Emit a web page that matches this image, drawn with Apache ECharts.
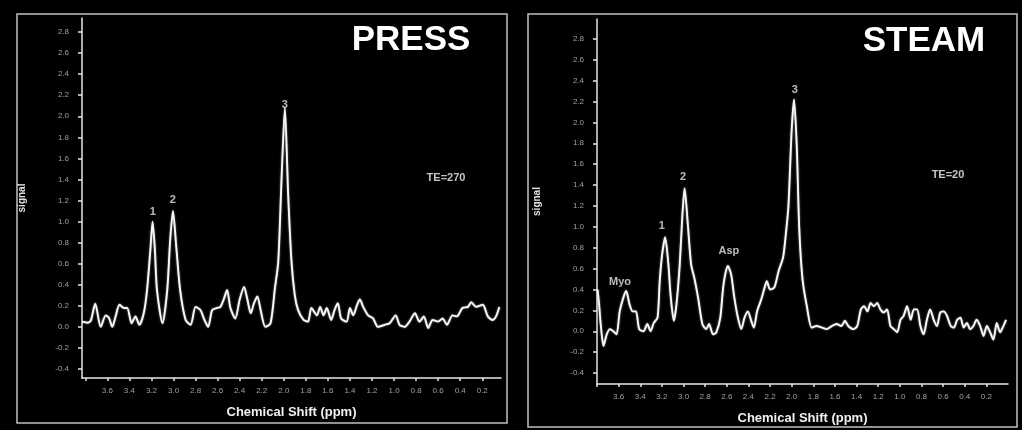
<!DOCTYPE html>
<html>
<head>
<meta charset="utf-8">
<script src="https://cdn.jsdelivr.net/npm/echarts@6/dist/echarts.min.js"></script>
<style>
  html, body { margin: 0; padding: 0; background: #000; }
  #chart { width: 1022px; height: 430px; }
</style>
</head>
<body>
<div id="chart"></div>
<script>
// ---- data ----
const pressPpm = [3.83,3.78,3.75,3.71,3.66,3.615,3.585,3.555,3.525,3.49,3.45,3.42,3.38,3.345,3.31,3.27,3.24,3.21,3.19,3.17,3.15,3.10,3.057,3.03,3.005,2.975,2.94,2.89,2.845,2.80,2.756,2.725,2.686,2.65,2.605,2.575,2.545,2.514,2.484,2.44,2.40,2.36,2.33,2.30,2.27,2.24,2.21,2.167,2.12,2.08,2.05,2.02,1.99,1.96,1.93,1.90,1.87,1.82,1.78,1.75,1.70,1.67,1.64,1.61,1.57,1.54,1.51,1.48,1.43,1.40,1.37,1.335,1.31,1.28,1.235,1.19,1.145,1.085,1.04,0.985,0.95,0.905,0.86,0.81,0.77,0.73,0.69,0.65,0.60,0.56,0.52,0.47,0.43,0.38,0.33,0.30,0.255,0.195,0.15,0.105,0.075,0.045];
const pressSignal = [0.05,0.04,0.06,0.22,0.00,0.11,0.085,0.00,0.10,0.21,0.18,0.18,0.035,0.10,0.02,0.13,0.35,0.73,1.00,0.75,0.35,0.035,0.35,0.83,1.10,0.76,0.35,0.066,0.02,0.19,0.16,0.08,0.00,0.16,0.18,0.19,0.26,0.35,0.18,0.08,0.26,0.38,0.26,0.13,0.225,0.29,0.16,0.00,0.035,0.37,0.62,1.41,2.08,1.25,0.62,0.30,0.16,0.066,0.05,0.18,0.11,0.19,0.11,0.18,0.066,0.16,0.225,0.08,0.05,0.18,0.11,0.21,0.26,0.19,0.11,0.08,0.00,0.02,0.035,0.11,0.02,0.00,0.05,0.13,0.05,0.10,-0.01,0.066,0.05,0.08,0.02,0.11,0.10,0.18,0.19,0.235,0.19,0.21,0.10,0.066,0.10,0.19];

const steamPpm = [3.795,3.78,3.766,3.74,3.71,3.68,3.65,3.62,3.59,3.557,3.53,3.50,3.47,3.44,3.41,3.37,3.335,3.305,3.275,3.24,3.22,3.197,3.17,3.14,3.12,3.09,3.065,3.035,3.01,2.99,2.96,2.93,2.90,2.865,2.826,2.79,2.764,2.727,2.697,2.66,2.63,2.59,2.56,2.53,2.497,2.466,2.436,2.405,2.374,2.35,2.32,2.28,2.25,2.23,2.20,2.16,2.12,2.08,2.055,2.03,2.00,1.978,1.953,1.93,1.90,1.86,1.815,1.77,1.72,1.676,1.63,1.585,1.54,1.508,1.477,1.43,1.394,1.36,1.33,1.30,1.27,1.24,1.21,1.18,1.148,1.118,1.087,1.056,1.025,0.994,0.964,0.933,0.90,0.87,0.84,0.81,0.78,0.75,0.72,0.687,0.657,0.626,0.595,0.565,0.53,0.50,0.47,0.44,0.41,0.38,0.35,0.32,0.29,0.257,0.226,0.196,0.165,0.135,0.104,0.073,0.043,0.018];
const steamSignal = [0.40,0.25,0.07,-0.14,-0.03,0.02,0.00,-0.03,0.19,0.32,0.385,0.26,0.19,0.19,0.02,0.00,0.07,0.00,0.08,0.13,0.48,0.74,0.90,0.64,0.35,0.10,0.26,0.64,1.12,1.37,1.02,0.64,0.51,0.32,0.07,0.02,0.07,-0.03,-0.01,0.13,0.45,0.625,0.545,0.32,0.13,0.02,0.13,0.19,0.10,0.035,0.19,0.31,0.42,0.48,0.40,0.42,0.58,0.705,0.92,1.20,1.93,2.22,1.77,0.98,0.50,0.24,0.035,0.05,0.035,0.02,0.05,0.07,0.05,0.10,0.05,0.02,0.05,0.21,0.24,0.19,0.27,0.24,0.27,0.21,0.18,0.21,0.05,0.02,-0.01,0.11,0.15,0.24,0.11,0.21,0.21,0.05,-0.03,0.11,0.21,0.11,0.05,0.18,0.19,0.15,0.05,0.035,0.11,0.13,0.035,0.08,0.02,0.05,0.11,0.05,-0.045,0.05,-0.01,-0.08,0.08,-0.01,0.05,0.11];

const yTickValues = [-0.4,-0.2,0.0,0.2,0.4,0.6,0.8,1.0,1.2,1.4,1.6,1.8,2.0,2.2,2.4,2.6,2.8];
const xTickValues = [3.8,3.6,3.4,3.2,3.0,2.8,2.6,2.4,2.2,2.0,1.8,1.6,1.4,1.2,1.0,0.8,0.6,0.4,0.2];
const xLabelValues = [3.6,3.4,3.2,3.0,2.8,2.6,2.4,2.2,2.0,1.8,1.6,1.4,1.2,1.0,0.8,0.6,0.4,0.2];

const panelTitles = ['PRESS', 'STEAM'];
const echoTimes = ['TE=270', 'TE=20'];
const xAxisName = 'Chemical Shift (ppm)';
const yAxisName = 'signal';

// peak annotations: text and the data point where the text sits
const pressMarkText = ['1', '2', '3'];
const pressMarkPpm = [3.187, 3.006, 1.99];
const pressMarkSignal = [1.09, 1.205, 2.106];
const steamMarkText = ['Myo', '1', '2', 'Asp', '3'];
const steamMarkPpm = [3.587, 3.20, 3.005, 2.58, 1.97];
const steamMarkSignal = [0.47, 1.005, 1.475, 0.765, 2.31];

// ---- chart ----
const FONT = '"Liberation Sans", Arial, sans-serif';
const zip = (a, b) => a.map((v, i) => [v, b[i]]);
const chart = echarts.init(document.getElementById('chart'), null, { renderer: 'canvas' });

const grids = [
  { left: 82, top: 18, width: 419, height: 360 },
  { left: 597, top: 19, width: 411, height: 365 }
];
const xRanges = [[0.03, 3.83], [0.0, 3.8]];
const yRanges = [[-0.485, 2.933], [-0.505, 2.99]];

function makeX(i) {
  return {
    gridIndex: i, type: 'value', inverse: true,
    min: xRanges[i][0], max: xRanges[i][1],
    axisLine: { show: true, onZero: false, lineStyle: { color: '#e6e6e6', width: 1.5 } },
    axisTick: { show: true, customValues: xTickValues, length: 3, lineStyle: { color: '#e6e6e6', width: 1.5 } },
    axisLabel: { customValues: xLabelValues, formatter: v => v.toFixed(1), color: '#a0a0a0', fontSize: 8, margin: 9, fontFamily: FONT },
    splitLine: { show: false },
    name: xAxisName, nameLocation: 'middle', nameGap: 28,
    nameTextStyle: { color: '#f0f0f0', fontWeight: 'bold', fontSize: 13, fontFamily: FONT }
  };
}
function makeY(i) {
  return {
    gridIndex: i, type: 'value',
    min: yRanges[i][0], max: yRanges[i][1],
    axisLine: { show: true, onZero: false, lineStyle: { color: '#e6e6e6', width: 1.5 } },
    axisTick: { show: true, customValues: yTickValues, length: 4, lineStyle: { color: '#e6e6e6', width: 1.5 } },
    axisLabel: { customValues: yTickValues, formatter: v => v.toFixed(1), color: '#a0a0a0', fontSize: 8, margin: 13, fontFamily: FONT },
    splitLine: { show: false },
    name: yAxisName, nameLocation: 'middle', nameGap: 55, nameRotate: 90,
    nameTextStyle: { color: '#e0e0e0', fontWeight: 'bold', fontSize: 10, fontFamily: FONT }
  };
}
function lineSeries(i, ppm, sig) {
  return {
    type: 'line', xAxisIndex: i, yAxisIndex: i,
    data: zip(ppm, sig), showSymbol: false, symbol: 'none', smooth: 0.25,
    lineStyle: { color: '#f8f8f8', width: 1.9, shadowBlur: 2, shadowColor: 'rgba(255,255,255,0.6)' },
    animation: false, silent: true
  };
}
function labelSeries(i, txt, ppm, sig) {
  return {
    type: 'scatter', xAxisIndex: i, yAxisIndex: i,
    data: txt.map((t, k) => ({ name: t, value: [ppm[k], sig[k]] })),
    symbolSize: 1, itemStyle: { color: 'rgba(0,0,0,0)' },
    label: {
      show: true, position: 'inside', formatter: p => p.name,
      color: '#e8e8e8', fontSize: 11, fontWeight: 'bold', fontFamily: FONT
    },
    animation: false, silent: true
  };
}

const option = {
  backgroundColor: '#000',
  animation: false,
  textStyle: { fontFamily: FONT },
  grid: grids,
  xAxis: [makeX(0), makeX(1)],
  yAxis: [makeY(0), makeY(1)],
  series: [
    lineSeries(0, pressPpm, pressSignal),
    lineSeries(1, steamPpm, steamSignal),
    labelSeries(0, pressMarkText, pressMarkPpm, pressMarkSignal),
    labelSeries(1, steamMarkText, steamMarkPpm, steamMarkSignal)
  ],
  graphic: [
    { type: 'rect', shape: { x: 17, y: 14, width: 490, height: 409 }, style: { fill: 'none', stroke: '#b9c2c2', lineWidth: 1.5 }, silent: true },
    { type: 'rect', shape: { x: 528, y: 14, width: 489, height: 413 }, style: { fill: 'none', stroke: '#b9c2c2', lineWidth: 1.5 }, silent: true },
    { type: 'text', x: 411, y: 40, style: { text: panelTitles[0], fill: '#ffffff', font: 'bold 35px ' + FONT, align: 'center', verticalAlign: 'middle' }, silent: true },
    { type: 'text', x: 924, y: 41, style: { text: panelTitles[1], fill: '#ffffff', font: 'bold 35px ' + FONT, align: 'center', verticalAlign: 'middle' }, silent: true },
    { type: 'text', x: 446, y: 178, style: { text: echoTimes[0], fill: '#c4c4c4', font: 'bold 11px ' + FONT, align: 'center', verticalAlign: 'middle' }, silent: true },
    { type: 'text', x: 948, y: 175, style: { text: echoTimes[1], fill: '#c4c4c4', font: 'bold 11px ' + FONT, align: 'center', verticalAlign: 'middle' }, silent: true }
  ]
};
chart.setOption(option);
</script>
</body>
</html>
